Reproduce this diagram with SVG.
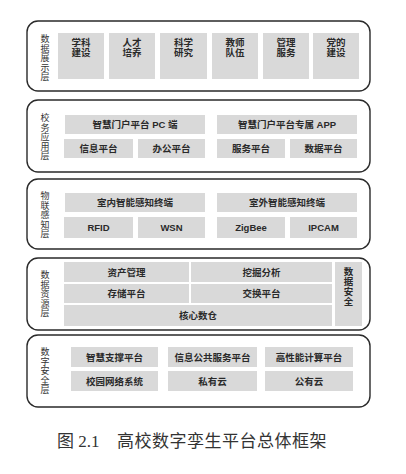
<svg xmlns="http://www.w3.org/2000/svg" width="406" height="474" viewBox="0 0 406 474">
<style>
.layer{fill:#fff;stroke:#2a2a2a;stroke-width:1.4}
.box{fill:#d9d9d9}
.t{font-family:"Liberation Sans","Noto Sans CJK SC",sans-serif;font-size:9.5px;font-weight:bold;fill:#2a2a2a;text-anchor:middle}
.lbl{font-family:"Liberation Sans","Noto Sans CJK SC",sans-serif;font-size:9px;fill:#333;text-anchor:middle}
.cap{font-family:"Liberation Serif","Noto Sans CJK SC",serif;font-size:17px;fill:#333}
</style>
<rect width="406" height="474" fill="#fff"/>

<g id="layer-display">
<rect class="layer" x="27" y="21" width="343" height="70" rx="11"/>
<text class="lbl" x="45" y="42">数</text><text class="lbl" x="45" y="51.5">据</text><text class="lbl" x="45" y="61">展</text><text class="lbl" x="45" y="70.5">示</text><text class="lbl" x="45" y="80">层</text>
<g id="n-xueke"><rect class="box" x="58" y="33" width="46" height="46"/><text class="t" x="81" y="45.5">学科</text><text class="t" x="81" y="55.5">建设</text></g>
<g id="n-rencai"><rect class="box" x="109" y="33" width="46" height="46"/><text class="t" x="132" y="45.5">人才</text><text class="t" x="132" y="55.5">培养</text></g>
<g id="n-kexue"><rect class="box" x="160" y="33" width="47" height="46"/><text class="t" x="183.5" y="45.5">科学</text><text class="t" x="183.5" y="55.5">研究</text></g>
<g id="n-jiaoshi"><rect class="box" x="212" y="33" width="46" height="46"/><text class="t" x="235" y="45.5">教师</text><text class="t" x="235" y="55.5">队伍</text></g>
<g id="n-guanli"><rect class="box" x="263" y="33" width="46" height="46"/><text class="t" x="286" y="45.5">管理</text><text class="t" x="286" y="55.5">服务</text></g>
<g id="n-dangde"><rect class="box" x="313" y="33" width="46" height="46"/><text class="t" x="336" y="45.5">党的</text><text class="t" x="336" y="55.5">建设</text></g>
</g>

<g id="layer-app">
<rect class="layer" x="27" y="100" width="343" height="72" rx="11"/>
<text class="lbl" x="45" y="121">校</text><text class="lbl" x="45" y="130.5">务</text><text class="lbl" x="45" y="140">应</text><text class="lbl" x="45" y="149.5">用</text><text class="lbl" x="45" y="159">层</text>
<g id="n-pc"><rect class="box" x="65" y="115" width="140" height="19"/><text class="t" x="135" y="128">智慧门户平台 PC 端</text></g>
<g id="n-appx"><rect class="box" x="217" y="115" width="140" height="19"/><text class="t" x="287" y="128">智慧门户平台专属 APP</text></g>
<g id="n-xinxi"><rect class="box" x="64" y="139" width="69" height="19"/><text class="t" x="98.5" y="152">信息平台</text></g>
<g id="n-bangong"><rect class="box" x="138" y="139" width="67" height="19"/><text class="t" x="171.5" y="152">办公平台</text></g>
<g id="n-fuwu"><rect class="box" x="217" y="139" width="68" height="19"/><text class="t" x="251" y="152">服务平台</text></g>
<g id="n-shuju"><rect class="box" x="290" y="139" width="67" height="19"/><text class="t" x="323.5" y="152">数据平台</text></g>
</g>

<g id="layer-iot">
<rect class="layer" x="27" y="179" width="343" height="70" rx="11"/>
<text class="lbl" x="45" y="199">物</text><text class="lbl" x="45" y="208.5">联</text><text class="lbl" x="45" y="218">感</text><text class="lbl" x="45" y="227.5">知</text><text class="lbl" x="45" y="237">层</text>
<g id="n-indoor"><rect class="box" x="65" y="193" width="140" height="19"/><text class="t" x="135" y="206">室内智能感知终端</text></g>
<g id="n-outdoor"><rect class="box" x="217" y="193" width="140" height="19"/><text class="t" x="287" y="206">室外智能感知终端</text></g>
<g id="n-rfid"><rect class="box" x="64" y="217" width="69" height="21"/><text class="t" x="98.5" y="231">RFID</text></g>
<g id="n-wsn"><rect class="box" x="138" y="217" width="67" height="21"/><text class="t" x="171.5" y="231">WSN</text></g>
<g id="n-zigbee"><rect class="box" x="217" y="217" width="68" height="21"/><text class="t" x="251" y="231">ZigBee</text></g>
<g id="n-ipcam"><rect class="box" x="290" y="217" width="67" height="21"/><text class="t" x="323.5" y="231">IPCAM</text></g>
</g>

<g id="layer-resource">
<rect class="layer" x="27" y="258" width="343" height="72" rx="11"/>
<text class="lbl" x="45" y="278">数</text><text class="lbl" x="45" y="287.5">据</text><text class="lbl" x="45" y="297">资</text><text class="lbl" x="45" y="306.5">源</text><text class="lbl" x="45" y="316">层</text>
<g id="n-zichan"><rect class="box" x="64" y="262" width="125" height="20"/><text class="t" x="126.5" y="275.5">资产管理</text></g>
<g id="n-wajue"><rect class="box" x="191" y="262" width="141" height="20"/><text class="t" x="261.5" y="275.5">挖掘分析</text></g>
<g id="n-cunchu"><rect class="box" x="64" y="284" width="125" height="19"/><text class="t" x="126.5" y="297">存储平台</text></g>
<g id="n-jiaohuan"><rect class="box" x="191" y="284" width="141" height="19"/><text class="t" x="261.5" y="297">交换平台</text></g>
<g id="n-hexin"><rect class="box" x="64" y="305" width="268" height="21"/><text class="t" x="198" y="319">核心数仓</text></g>
<g id="n-anquan"><rect class="box" x="335" y="262" width="27" height="64"/><text class="t" x="348.5" y="275">数</text><text class="t" x="348.5" y="285">据</text><text class="t" x="348.5" y="295">安</text><text class="t" x="348.5" y="305">全</text></g>
</g>

<g id="layer-digital">
<rect class="layer" x="27" y="335" width="343" height="72" rx="11"/>
<text class="lbl" x="45" y="355">数</text><text class="lbl" x="45" y="364.5">字</text><text class="lbl" x="45" y="374">安</text><text class="lbl" x="45" y="383.5">全</text><text class="lbl" x="45" y="393">层</text>
<g id="n-zhihui"><rect class="box" x="71" y="347" width="87" height="20"/><text class="t" x="114.5" y="360.5">智慧支撑平台</text></g>
<g id="n-gonggong"><rect class="box" x="168" y="347" width="89" height="20"/><text class="t" x="212.5" y="360.5">信息公共服务平台</text></g>
<g id="n-gaoxing"><rect class="box" x="265" y="347" width="88" height="20"/><text class="t" x="309" y="360.5">高性能计算平台</text></g>
<g id="n-xiaoyuan"><rect class="box" x="71" y="371" width="87" height="20"/><text class="t" x="114.5" y="384.5">校园网络系统</text></g>
<g id="n-siyou"><rect class="box" x="168" y="371" width="89" height="20"/><text class="t" x="212.5" y="384.5">私有云</text></g>
<g id="n-gongyou"><rect class="box" x="265" y="371" width="88" height="20"/><text class="t" x="309" y="384.5">公有云</text></g>
</g>

<g id="connectors"></g>

<g id="caption">
<text class="cap" x="57" y="447">图 2.1</text>
<text class="cap" x="117" y="447" letter-spacing="0.5">高校数字孪生平台总体框架</text>
</g>
</svg>
